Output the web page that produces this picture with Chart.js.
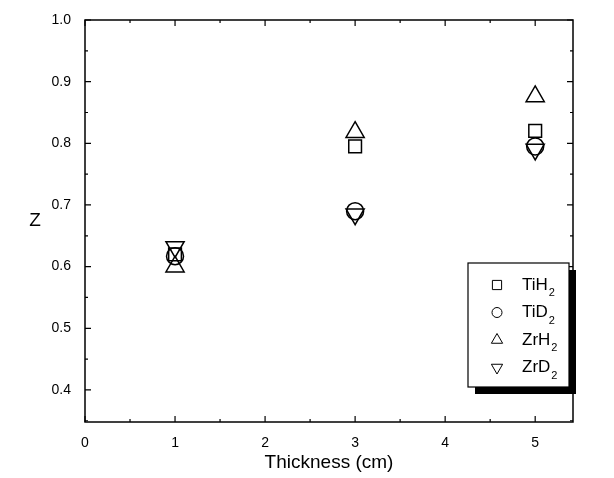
<!DOCTYPE html>
<html>
<head>
<meta charset="utf-8">
<script src="https://cdn.jsdelivr.net/npm/chart.js@4"></script>
<style>
  html, body { margin: 0; padding: 0; background: #fff; }
  #wrap { width: 614px; height: 478px; }
</style>
</head>
<body>
<div id="wrap"><canvas id="grafico" width="614" height="478"></canvas></div>
<script>
// ===============================
// DATOS
// ===============================
const espesores = [1, 3, 5];
const tiH2 = [0.62, 0.795, 0.82];
const tiD2 = [0.617, 0.69, 0.795];
const zrH2 = [0.60, 0.818, 0.876];
const zrD2 = [0.632, 0.685, 0.79];
const ticksX = [0, 1, 2, 3, 4, 5];
const ticksY = [0.4, 0.5, 0.6, 0.7, 0.8, 0.9, 1.0];

const series = [
  { nombre: "TiH", sub: "2", valores: tiH2, estilo: "rect", rot: 0, radio: 9 },
  { nombre: "TiD", sub: "2", valores: tiD2, estilo: "circle", rot: 0, radio: 8.5 },
  { nombre: "ZrH", sub: "2", valores: zrH2, estilo: "triangle", rot: 0, radio: 10.5 },
  { nombre: "ZrD", sub: "2", valores: zrD2, estilo: "triangle", rot: 180, radio: 10.5 }
];

const fuente = "'Liberation Sans', Arial, sans-serif";

// ===============================
// PLUGIN: MARCO, TICKS Y LEYENDA
// ===============================
const marcoPlugin = {
  id: "marco",
  afterDatasetsDraw(chart) {
    const { ctx, chartArea: a, scales } = chart;
    const x = scales.x, y = scales.y;
    ctx.save();
    ctx.strokeStyle = "#000";
    ctx.lineWidth = 1.5;
    ctx.strokeRect(a.left, a.top, a.right - a.left, a.bottom - a.top);

    ctx.lineWidth = 1.2;
    ctx.beginPath();
    for (let v = 0; v <= 5.4; v += 0.5) {
      const px = x.getPixelForValue(v);
      const len = Math.abs(v - Math.round(v)) < 0.01 ? 6 : 3;
      ctx.moveTo(px, a.bottom); ctx.lineTo(px, a.bottom - len);
      ctx.moveTo(px, a.top); ctx.lineTo(px, a.top + len);
    }
    for (let i = 7; i <= 20; i++) {
      const v = i * 0.05;
      const py = y.getPixelForValue(v);
      const len = i % 2 === 0 ? 6 : 3;
      ctx.moveTo(a.left, py); ctx.lineTo(a.left + len, py);
      ctx.moveTo(a.right, py); ctx.lineTo(a.right - len, py);
    }
    ctx.stroke();

    // titulo eje Y (sin rotar)
    ctx.fillStyle = "#000";
    ctx.font = "19px " + fuente;
    ctx.textAlign = "center";
    ctx.textBaseline = "middle";
    ctx.fillText("Z", 35, 221);

    // leyenda
    const bx = 468, by = 263, bw = 101, bh = 124;
    ctx.fillStyle = "#000";
    ctx.fillRect(bx + 7, by + 7, bw, bh);
    ctx.fillStyle = "#fff";
    ctx.fillRect(bx, by, bw, bh);
    ctx.strokeRect(bx, by, bw, bh);

    series.forEach((s, i) => {
      const cy = 285 + i * 27.5;
      ctx.lineWidth = 1;
      ctx.strokeStyle = "#000";
      ctx.fillStyle = "#fff";
      Chart.helpers.drawPoint(ctx, {
        pointStyle: s.estilo, rotation: s.rot,
        radius: s.estilo === "triangle" ? 6.5 : (s.estilo === "rect" ? 6.5 : 5), borderWidth: 1
      }, 497, cy);
      ctx.fillStyle = "#000";
      ctx.textBaseline = "middle";
      ctx.textAlign = "left";
      ctx.font = "17px " + fuente;
      ctx.fillText(s.nombre, 522, cy);
      const w = ctx.measureText(s.nombre).width;
      ctx.font = "11px " + fuente;
      ctx.fillText(s.sub, 522 + w + 1, cy + 8);
    });
    ctx.restore();
  }
};

// ===============================
// GRAFICO
// ===============================
const ctxGrafico = document.getElementById("grafico").getContext("2d");
const grafico = new Chart(ctxGrafico, {
  type: "scatter",
  data: {
    datasets: series.map(s => ({
      label: s.nombre + s.sub,
      data: espesores.map((e, i) => ({ x: e, y: s.valores[i] })),
      pointStyle: s.estilo,
      rotation: s.rot,
      pointRadius: s.radio,
      pointHoverRadius: s.radio,
      backgroundColor: "rgba(255,255,255,0)",
      borderColor: "#000",
      borderWidth: 1.5
    }))
  },
  options: {
    responsive: false,
    animation: false,
    events: [],
    layout: { padding: { left: 0, right: 41, top: 20, bottom: 0 } },
    plugins: { legend: { display: false }, tooltip: { enabled: false } },
    scales: {
      x: {
        type: "linear", min: 0, max: 5.42,
        grid: { display: false },
        border: { display: false },
        afterBuildTicks: sc => { sc.ticks = ticksX.map(v => ({ value: v })); },
        afterFit: sc => { sc.height = 56; },
        ticks: { color: "#000", font: { family: fuente, size: 14 }, padding: 5, callback: v => String(v) },
        title: { display: true, text: "Thickness (cm)", color: "#000", font: { family: fuente, size: 19 }, padding: { top: 8 } }
      },
      y: {
        type: "linear", min: 0.348, max: 1.0,
        grid: { display: false },
        border: { display: false },
        afterBuildTicks: sc => { sc.ticks = ticksY.map(v => ({ value: v })); },
        afterFit: sc => { sc.width = 85; },
        ticks: { color: "#000", font: { family: fuente, size: 14 }, padding: 6, callback: v => v.toFixed(1) }
      }
    }
  },
  plugins: [marcoPlugin]
});
</script>
</body>
</html>
